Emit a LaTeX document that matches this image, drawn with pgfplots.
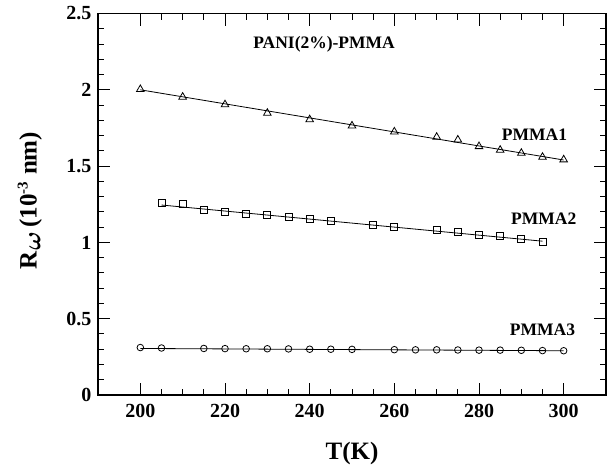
\documentclass[border=0pt]{standalone}
\usepackage{pgfplots}
\pgfplotsset{compat=1.18}
\usepackage{fontspec}
\setmainfont{Liberation Serif}
\begin{document}
\begin{tikzpicture}
\path[use as bounding box] (-98pt,-71pt) rectangle (509pt,395pt);
\begin{axis}[
  at={(0,0)}, anchor=south west,
  scale only axis, width=508pt, height=381.5pt,
  xmin=190, xmax=310, ymin=0, ymax=2.5,
  xtick={200,220,...,300}, ytick={0,0.5,1,1.5,2,2.5},
  yticklabels={0,0.5,1,1.5,2,2.5},
  minor x tick num=3, minor y tick num=4,
  tick align=inside, major tick length=12pt, minor tick length=6pt,
  axis line style={line width=1.4pt},
  tick style={line width=1pt, black},
  every tick label/.append style={font=\fontsize{20}{20}\selectfont\bfseries},
  /pgf/number format/assume math mode=true,
  xticklabel style={yshift=-6pt},
  yticklabel style={xshift=-3pt},
  xlabel={T(K)},
  xlabel style={at={(axis description cs:0.5,-0.17)}, anchor=base, font=\fontsize{25}{25}\selectfont\bfseries},
  ylabel={R$_{\mbox{\boldmath$\omega$}}$\,(10$^{\mbox{\fontsize{15}{15}\selectfont\bfseries -3}}$ nm)},
  ylabel style={at={(axis description cs:-0.165,0.51)}, anchor=north, font=\fontsize{25}{25}\selectfont\bfseries},
  clip=false,
]
\addplot[black, line width=0.8pt, mark=triangle, mark size=4.4pt, only marks] coordinates {
(200,2.003) (210,1.953) (220,1.903) (230,1.847) (240,1.805) (250,1.764) (260,1.725)
(270,1.690) (275,1.672) (280,1.629) (285,1.605) (290,1.585) (295,1.559) (300,1.542)};
\addplot[black, line width=0.8pt] coordinates {(200,2.0) (300,1.54)};
\addplot[black, line width=0.8pt, mark=square, mark size=3.5pt, only marks] coordinates {
(205,1.259) (210,1.250) (215,1.215) (220,1.202) (225,1.189) (230,1.180) (235,1.169)
(240,1.154) (245,1.141) (255,1.115) (260,1.102) (270,1.080) (275,1.069) (280,1.052)
(285,1.043) (290,1.024) (295,1.006)};
\addplot[black, line width=0.8pt] coordinates {(205,1.245) (295,1.008)};
\addplot[black, line width=0.8pt, mark=o, mark size=3.3pt, only marks] coordinates {
(200,0.311) (205,0.308) (215,0.305) (220,0.304) (225,0.303) (230,0.303) (235,0.302)
(240,0.300) (245,0.300) (250,0.299) (260,0.297) (265,0.296) (270,0.296) (275,0.295)
(280,0.294) (285,0.294) (290,0.293) (295,0.291) (300,0.290)};
\addplot[black, line width=0.8pt] coordinates {(200,0.305) (300,0.290)};
\node[font=\fontsize{17.5}{17.5}\selectfont\bfseries, anchor=base] at (axis cs:243.4,2.272) {PANI(2\%)-PMMA};
\node[font=\fontsize{17.5}{17.5}\selectfont\bfseries] at (axis cs:293.1,1.708) {PMMA1};
\node[font=\fontsize{17.5}{17.5}\selectfont\bfseries] at (axis cs:295.3,1.153) {PMMA2};
\node[font=\fontsize{17.5}{17.5}\selectfont\bfseries] at (axis cs:295,0.426) {PMMA3};
\end{axis}
\end{tikzpicture}
\end{document}
